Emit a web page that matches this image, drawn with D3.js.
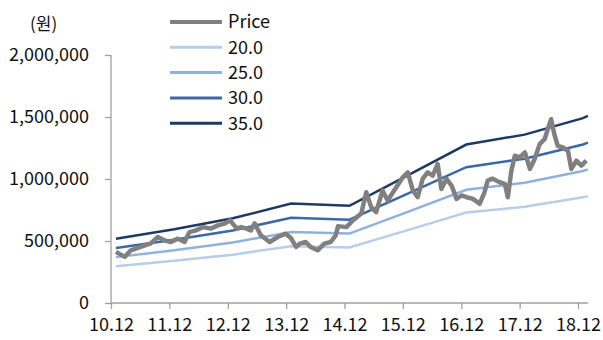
<!DOCTYPE html>
<html>
<head>
<meta charset="utf-8">
<script src="https://cdn.jsdelivr.net/npm/d3@7"></script>
<style>
  body { margin: 0; background: #fff; }
  svg text { font-family: "Noto Sans CJK KR", "Noto Sans", sans-serif; fill: #111; }
</style>
</head>
<body>
<svg id="chart" width="603" height="340"></svg>
<script>
// band breakpoints (PER x EPS), won
var bandDates = ['2011-01-01', '2012-01-01', '2013-01-01', '2014-01-01', '2015-01-01',
                 '2016-01-01', '2017-01-01', '2018-01-01', '2019-01-01', '2019-02-01'];
var per20 = [296000, 340000, 390000, 458000, 448000, 588000, 730000, 776000, 852000, 862000];
var per25 = [370000, 425000, 488000, 573000, 560000, 735000, 913000, 970000, 1065000, 1078000];
var per30 = [444000, 510000, 585000, 687000, 672000, 882000, 1095000, 1164000, 1278000, 1293000];
var per35 = [518000, 595000, 683000, 802000, 784000, 1029000, 1278000, 1358000, 1491000, 1509000];

// price
var priceDates = ['2011-01-01', '2011-02-25', '2011-04-04', '2011-06-05', '2011-08-07', '2011-09-20',
  '2011-11-01', '2011-12-10', '2012-01-24', '2012-03-05', '2012-04-05', '2012-05-15', '2012-06-28',
  '2012-08-17', '2012-09-30', '2012-11-11', '2012-12-15', '2013-01-25', '2013-02-22', '2013-03-28',
  '2013-04-24', '2013-05-18', '2013-06-25', '2013-08-19', '2013-10-10', '2013-11-29', '2014-01-01',
  '2014-02-01', '2014-02-24', '2014-04-02', '2014-05-03', '2014-06-16', '2014-07-28', '2014-09-06',
  '2014-10-07', '2014-10-22', '2014-12-13', '2015-01-22', '2015-03-16', '2015-04-16', '2015-05-17',
  '2015-06-17', '2015-07-27', '2015-08-28', '2015-10-21', '2015-12-01', '2016-01-01', '2016-02-02',
  '2016-03-03', '2016-04-03', '2016-05-04', '2016-06-05', '2016-07-06', '2016-07-29', '2016-08-30',
  '2016-10-01', '2016-11-01', '2016-12-02', '2017-01-03', '2017-02-12', '2017-03-25', '2017-04-25',
  '2017-05-15', '2017-06-15', '2017-07-28', '2017-08-30', '2017-09-18', '2017-10-10', '2017-11-01',
  '2017-12-01', '2018-01-03', '2018-02-03', '2018-03-05', '2018-04-05', '2018-05-06', '2018-05-26',
  '2018-06-16', '2018-07-06', '2018-07-27', '2018-08-28', '2018-09-29', '2018-10-20', '2018-11-21',
  '2018-12-22', '2019-01-22'];
var priceValues = [412000, 372000, 425000, 452000, 481000, 532000,
  505000, 492000, 519000, 492000, 572000, 586000, 612000,
  600000, 626000, 640000, 666000, 602000, 612000, 600000,
  586000, 642000, 546000, 492000, 532000, 559000, 522000,
  452000, 479000, 492000, 452000, 425000, 479000, 492000,
  546000, 620000, 612000, 666000, 722000, 893000, 773000,
  733000, 907000, 827000, 934000, 1014000, 1054000, 907000,
  853000, 1001000, 1054000, 1027000, 1121000, 920000, 1001000,
  947000, 840000, 867000, 853000, 840000, 800000, 893000,
  987000, 1003000, 974000, 961000, 853000, 1067000, 1188000,
  1174000, 1214000, 1081000, 1161000, 1281000, 1321000, 1401000,
  1482000, 1361000, 1268000, 1254000, 1228000, 1081000, 1148000,
  1108000, 1148000];

var yTicks = [0, 500000, 1000000, 1500000, 2000000];
var xTickDates = ['2010-12-01', '2011-12-01', '2012-12-01', '2013-12-01', '2014-12-01',
                  '2015-12-01', '2016-12-01', '2017-12-01', '2018-12-01'];

var legendNames = ['Price', '20.0', '25.0', '30.0', '35.0'];
var colors = ['#808080', '#b8cde6', '#8fb2dc', '#3a68a8', '#1f3a62'];
var widths = [4.5, 2.5, 2.5, 2.5, 2.5];

var parse = d3.timeParse('%Y-%m-%d');
var svg = d3.select('#chart');

var x = d3.scaleTime()
  .domain([parse('2010-12-01'), parse('2018-12-01')])
  .range([111, 578]);
var y = d3.scaleLinear().domain([0, 2000000]).range([303, 55]);

// axes
var yAxis = svg.append('g').attr('transform', 'translate(111,0)')
  .call(d3.axisLeft(y).tickValues(yTicks).tickSize(6).tickPadding(16)
    .tickFormat(d3.format(',')));
var xAxis = svg.append('g').attr('transform', 'translate(0,303)')
  .call(d3.axisBottom(x).tickValues(xTickDates.map(parse)).tickSize(6).tickPadding(9)
    .tickFormat(d3.timeFormat('%y.%m')));

[yAxis, xAxis].forEach(function (a) {
  a.select('.domain').attr('stroke', '#a0a0a0').attr('stroke-width', 1.3);
  a.selectAll('.tick line').attr('stroke', '#a0a0a0').attr('stroke-width', 1.3);
  a.selectAll('text').style('font-size', '18px').attr('fill', '#111');
});
// x axis line runs a little past the last tick
xAxis.select('.domain').attr('d', 'M111,0H' + x(parse('2019-02-01')).toFixed(1));
yAxis.select('.domain').attr('d', 'M0,' + y(2000000) + 'V303');

var line = d3.line().x(function (d) { return x(d[0]); }).y(function (d) { return y(d[1]); });

function series(dates, vals) {
  return dates.map(function (d, i) { return [parse(d), vals[i]]; });
}

var bands = [per20, per25, per30, per35];
bands.forEach(function (b, i) {
  svg.append('path')
    .datum(series(bandDates, b))
    .attr('d', line)
    .attr('fill', 'none')
    .attr('stroke', colors[i + 1])
    .attr('stroke-width', widths[i + 1]);
});

svg.append('path')
  .datum(series(priceDates, priceValues))
  .attr('d', line.curve(d3.curveLinear))
  .attr('fill', 'none')
  .attr('stroke', colors[0])
  .attr('stroke-width', widths[0])
  .attr('stroke-linejoin', 'round');

// unit
svg.append('text').attr('x', 30).attr('y', 30).style('font-size', '17px').text('(원)');

// legend
var leg = svg.append('g');
legendNames.forEach(function (n, i) {
  var cy = 22 + i * 25.3;
  leg.append('line').attr('x1', 170).attr('x2', 222).attr('y1', cy).attr('y2', cy)
    .attr('stroke', colors[i]).attr('stroke-width', i === 0 ? 4 : 3);
  leg.append('text').attr('x', 228).attr('y', cy).attr('dy', '0.35em')
    .style('font-size', '18px').text(n);
});
</script>
</body>
</html>
